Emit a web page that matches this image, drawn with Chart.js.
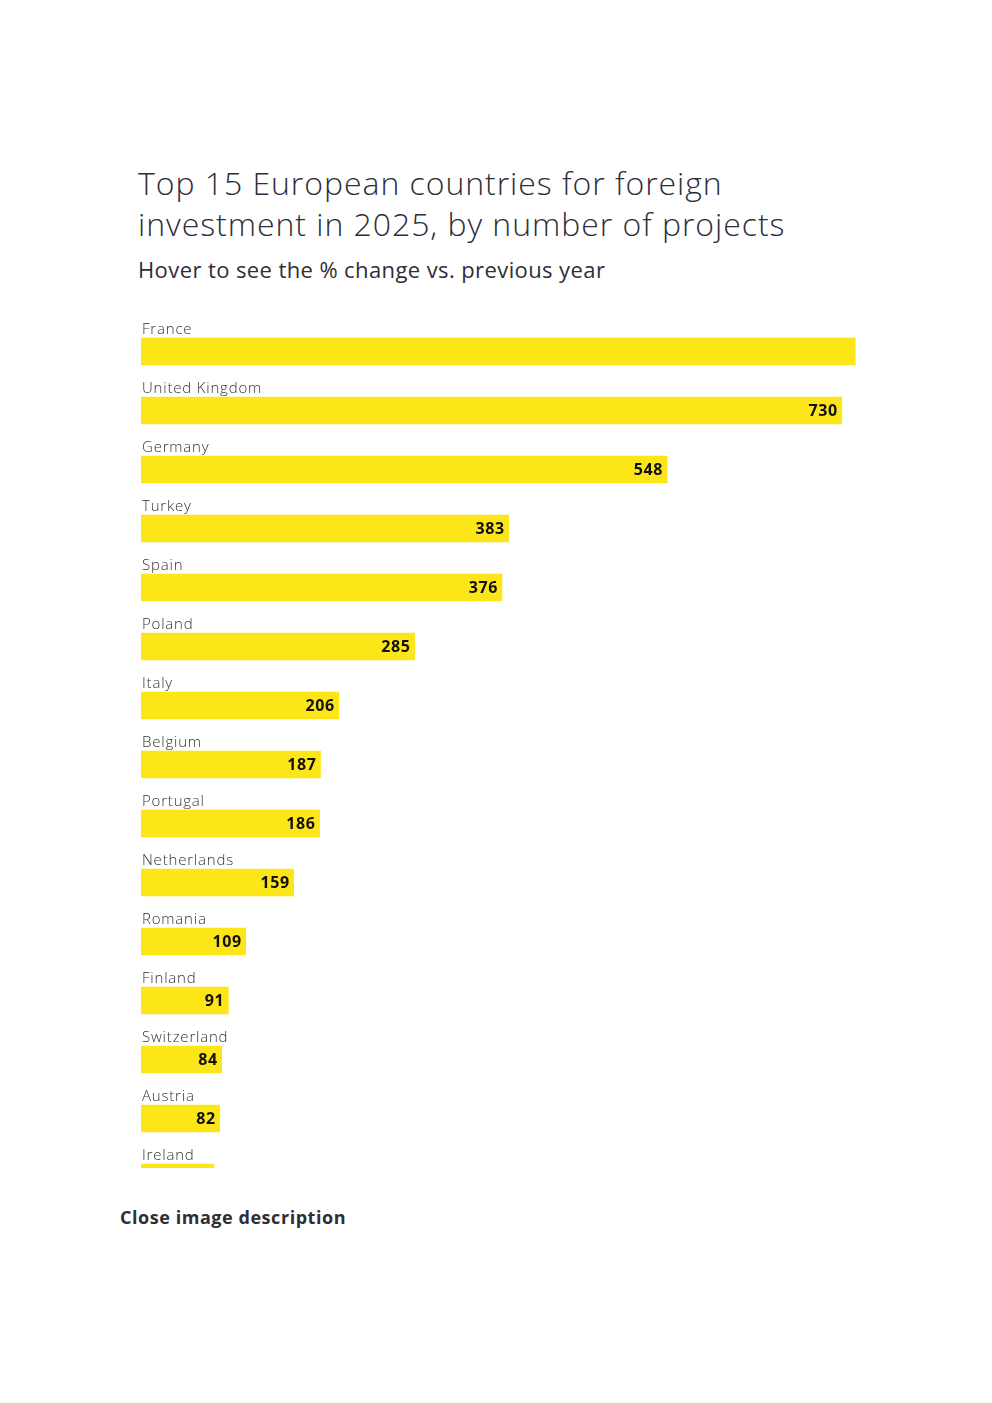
<!DOCTYPE html>
<html>
<head>
<meta charset="utf-8">
<script src="https://cdn.jsdelivr.net/npm/chart.js@4.4.1/dist/chart.umd.min.js"></script>
<style>
  body { margin: 0; background: #fff; font-family: "Open Sans", "DejaVu Sans", sans-serif; color: #2e2e38; }
  #title { position: absolute; left: 138px; top: 162px; font-size: 32px; font-weight: 300; line-height: 41px; letter-spacing: 0.95px; margin: 0; }
  #sub { position: absolute; left: 138px; top: 254px; font-size: 22px; letter-spacing: 0.4px; margin: 0; }
  #wrap { position: absolute; left: 141px; top: 302px; width: 740px; height: 866px; overflow: hidden; }
  #close { position: absolute; left: 120px; top: 1205px; font-size: 18px; font-weight: bold; letter-spacing: 0.55px; }
</style>
</head>
<body>
<h1 id="title">Top 15 European countries for foreign<br>investment in 2025, by number of projects</h1>
<p id="sub">Hover to see the % change vs. previous year</p>
<div id="wrap"><canvas id="chart"></canvas></div>
<div id="close">Close image description</div>
<script>
const paises = ['France', 'United Kingdom', 'Germany', 'Turkey', 'Spain', 'Poland', 'Italy', 'Belgium',
  'Portugal', 'Netherlands', 'Romania', 'Finland', 'Switzerland', 'Austria', 'Ireland'];
const projetos = [744, 730, 548, 383, 376, 285, 206, 187, 186, 159, 109, 91, 84, 82, 76];
// o rótulo da França não aparece na imagem
const semRotulo = ['France'];

const canvas = document.getElementById('chart');
canvas.width = 740;
canvas.height = 905;
canvas.style.width = '740px';
canvas.style.height = '905px';

// desenha o nome do país acima da barra e o valor dentro dela
const rotulos = {
  id: 'rotulos',
  afterDatasetsDraw(chart) {
    const ctx = chart.ctx;
    const meta = chart.getDatasetMeta(0);
    ctx.save();
    meta.data.forEach((bar, i) => {
      const topo = bar.y - bar.height / 2;
      ctx.font = '300 15px "Open Sans", sans-serif';
      ctx.letterSpacing = '0.8px';
      ctx.fillStyle = '#333333';
      ctx.textAlign = 'left';
      ctx.textBaseline = 'alphabetic';
      ctx.fillText(paises[i], chart.chartArea.left + 1, topo - 4);
      if (!semRotulo.includes(paises[i])) {
        ctx.font = 'bold 16px "Open Sans", sans-serif';
        ctx.letterSpacing = '0.6px';
        ctx.fillStyle = '#111111';
        ctx.textAlign = 'right';
        ctx.textBaseline = 'middle';
        ctx.fillText(String(projetos[i]), bar.x - 4, bar.y + 1);
      }
    });
    ctx.restore();
  }
};

new Chart(canvas.getContext('2d'), {
  type: 'bar',
  data: {
    labels: paises,
    datasets: [{
      data: projetos,
      backgroundColor: '#FDE618',
      barThickness: 27,
      borderWidth: 0
    }]
  },
  options: {
    indexAxis: 'y',
    responsive: false,
    animation: false,
    layout: { padding: { top: 20, left: 0, right: 20, bottom: 0 } },
    plugins: { legend: { display: false }, tooltip: { enabled: false } },
    scales: {
      x: { display: false, min: 0, max: 750 },
      y: { display: false }
    }
  },
  plugins: [rotulos]
});
</script>
</body>
</html>
